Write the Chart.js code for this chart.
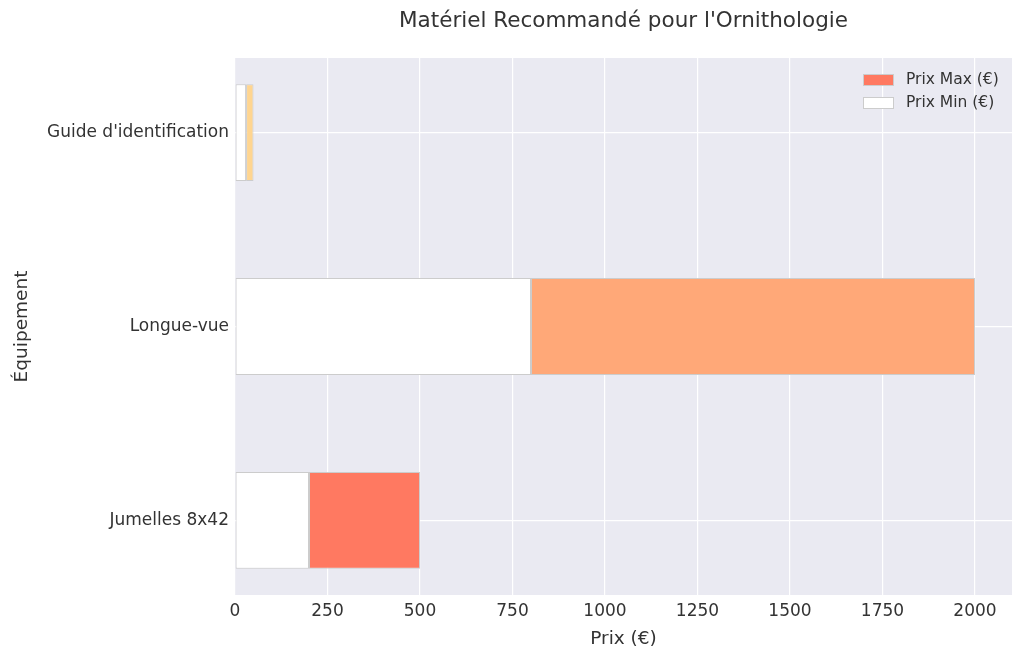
<!DOCTYPE html>
<html>
<head>
<meta charset="utf-8">
<script src="https://cdn.jsdelivr.net/npm/chart.js@4.4.0/dist/chart.umd.min.js"></script>
<style>
  html, body { margin: 0; padding: 0; background: #ffffff; }
  #wrap { width: 1024px; height: 662px; }
</style>
</head>
<body>
<div id="wrap"><canvas id="canvas" width="1024" height="662"></canvas></div>
<script>
// data, bottom to top
var categories = ['Jumelles 8x42', 'Longue-vue', "Guide d'identification"];
var minPrices = [200, 800, 30];
var maxPrices = [500, 2000, 50];
var maxColors = ['#ff7961', '#ffa878', '#ffd590'];
var xTicks = [0, 250, 500, 750, 1000, 1250, 1500, 1750, 2000];

var FONT = "'DejaVu Sans', sans-serif";
var TEXT = '#333333';

//plot background + titles + legend
var decor = {
    id: 'decor',
    beforeDraw: function (chart) {
        var ctx = chart.ctx, a = chart.chartArea;
        ctx.save();
        ctx.fillStyle = '#eaeaf2';
        ctx.fillRect(a.left, a.top, a.right - a.left, a.bottom - a.top);
        ctx.restore();
    },
    afterDraw: function (chart) {
        var ctx = chart.ctx, a = chart.chartArea;
        var cx = (a.left + a.right) / 2;
        ctx.save();
        ctx.fillStyle = TEXT;
        ctx.textAlign = 'center';
        ctx.textBaseline = 'middle';
        ctx.font = '21.5px ' + FONT;
        ctx.fillText("Matériel Recommandé pour l'Ornithologie", cx, 21);
        ctx.font = '18.5px ' + FONT;
        ctx.fillText('Prix (€)', cx, 639);
        ctx.translate(22, (a.top + a.bottom) / 2);
        ctx.rotate(-Math.PI / 2);
        ctx.fillText('Équipement', 0, 0);
        ctx.restore();

        // legend
        ctx.save();
        var lx = a.right - 149;
        var rows = [['Prix Max (€)', maxColors[0]], ['Prix Min (€)', '#ffffff']];
        ctx.font = '15.5px ' + FONT;
        ctx.textAlign = 'left';
        ctx.textBaseline = 'middle';
        for (var i = 0; i < rows.length; i++) {
            var y = 80 + i * 23;
            ctx.fillStyle = rows[i][1];
            ctx.fillRect(lx, y - 6, 31, 12);
            ctx.strokeStyle = '#cccccc';
            ctx.lineWidth = 1;
            ctx.strokeRect(lx + 0.5, y - 5.5, 30, 11);
            ctx.fillStyle = TEXT;
            ctx.fillText(rows[i][0], lx + 43, y);
        }
        ctx.restore();
    }
};

var config = {
    type: 'bar',
    data: {
        datasets: [{
            label: 'Prix Max (€)',
            data: categories.map(function (c, i) { return { x: [minPrices[i], maxPrices[i]], y: i }; }),
            backgroundColor: maxColors,
            borderColor: '#cccccc',
            borderWidth: 1,
            borderSkipped: false,
            grouped: false,
            barPercentage: 0.5,
            categoryPercentage: 1
        }, {
            label: 'Prix Min (€)',
            data: categories.map(function (c, i) { return { x: [0, minPrices[i]], y: i }; }),
            backgroundColor: '#ffffff',
            borderColor: '#cccccc',
            borderWidth: 1,
            borderSkipped: false,
            grouped: false,
            barPercentage: 0.5,
            categoryPercentage: 1
        }]
    },
    options: {
        indexAxis: 'y',
        responsive: false,
        animation: false,
        layout: { padding: { top: 58, right: 12, left: 0, bottom: 0 } },
        plugins: {
            legend: { display: false },
            title: { display: false },
            tooltip: { enabled: false }
        },
        scales: {
            x: {
                type: 'linear',
                min: 0,
                max: 2100,
                afterBuildTicks: function (scale) {
                    scale.ticks = xTicks.map(function (v) { return { value: v }; });
                },
                afterFit: function (scale) { scale.height = 67; },
                grid: { color: '#ffffff', lineWidth: 1.2, drawTicks: false },
                border: { display: false },
                ticks: {
                    color: TEXT,
                    padding: 6,
                    font: { family: FONT, size: 17 },
                    callback: function (v) { return String(v); }
                }
            },
            y: {
                type: 'linear',
                min: -0.385,
                max: 2.385,
                offset: false,
                afterBuildTicks: function (scale) {
                    scale.ticks = categories.map(function (c, i) { return { value: i }; });
                },
                afterFit: function (scale) { scale.width = 235; },
                grid: { color: '#ffffff', lineWidth: 1.2, drawTicks: false, offset: false },
                border: { display: false },
                ticks: {
                    color: TEXT,
                    padding: 6,
                    font: { family: FONT, size: 17 },
                    callback: function (v) { return categories[v]; }
                }
            }
        }
    },
    plugins: [decor]
};

window.onload = function () {
    var ctx = document.getElementById('canvas').getContext('2d');
    window.myBar = new Chart(ctx, config);
};
</script>
</body>
</html>
